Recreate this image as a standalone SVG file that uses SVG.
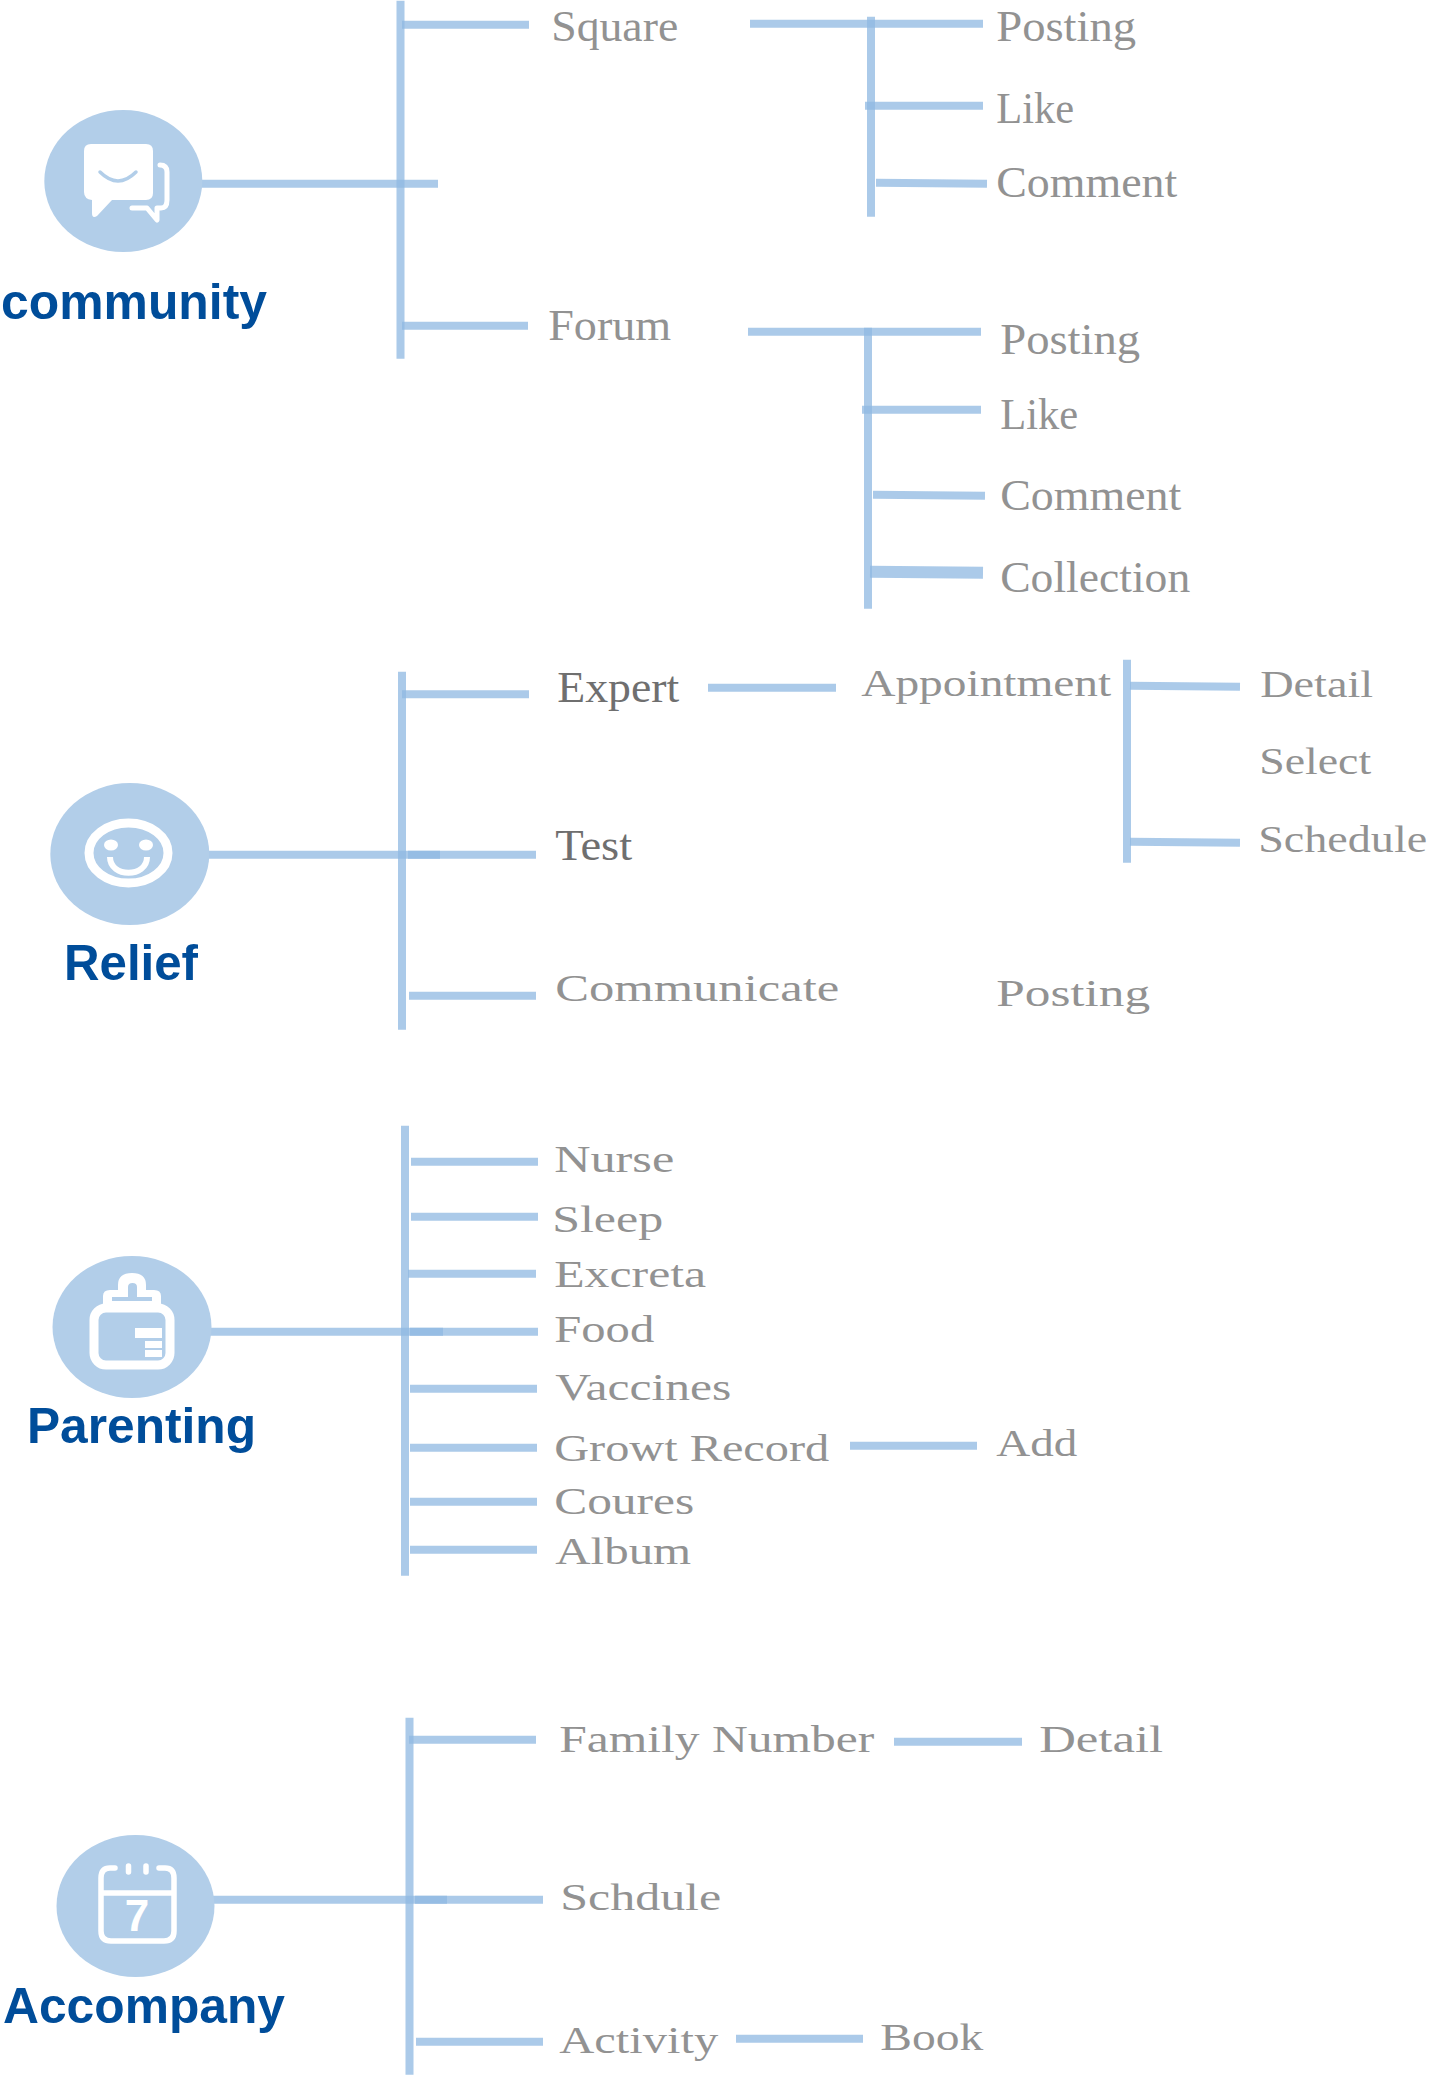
<svg xmlns="http://www.w3.org/2000/svg" width="1452" height="2076" viewBox="0 0 1452 2076">
<style>
.c{stroke:#8fb8e2;stroke-opacity:.75;stroke-width:8;fill:none}
.t{font-family:"Liberation Serif",serif;font-size:44px;fill:#929292}
.w{font-family:"Liberation Serif",serif;font-size:38px;fill:#929292}
.d{fill:#6f6f6f}
.h{font-family:"Liberation Sans",Arial,sans-serif;font-weight:700;font-size:50px;fill:#004d9a}
.b{fill:#b2cee9}
.i{fill:none;stroke:#fff;stroke-linecap:round;stroke-linejoin:round}
.f{fill:#fff}
</style>
<rect width="1452" height="2076" fill="#fff"/>
<g id="connectors" transform="translate(0 .7)">
<line class="c" x1="400.500" y1="0" x2="400.500" y2="358"/><line class="c" x1="201" y1="183" x2="438" y2="183"/><line class="c" x1="402" y1="24" x2="529" y2="24"/><line class="c" x1="402" y1="325" x2="528" y2="325"/>
<line class="c" x1="750" y1="23" x2="983" y2="23"/><line class="c" x1="871" y1="16" x2="871" y2="216"/><line class="c" x1="865" y1="105" x2="983" y2="105"/><line class="c" x1="876" y1="182" x2="987" y2="183"/>
<line class="c" x1="748" y1="331" x2="981" y2="331"/><line class="c" x1="868" y1="327" x2="868" y2="608"/><line class="c" x1="862" y1="409" x2="981" y2="409"/><line class="c" x1="873" y1="494" x2="985" y2="495"/><line class="c" x1="870" y1="571" x2="983" y2="572" style="stroke-width:12"/>
<line class="c" x1="402" y1="671" x2="402" y2="1029"/><line class="c" x1="402" y1="693.500" x2="529" y2="693.500"/><line class="c" x1="208" y1="854" x2="440" y2="854"/><line class="c" x1="408" y1="854" x2="536" y2="854"/><line class="c" x1="409" y1="995" x2="536" y2="995"/><line class="c" x1="708" y1="687" x2="836" y2="687"/>
<line class="c" x1="1127" y1="659" x2="1127" y2="862"/><line class="c" x1="1130" y1="685" x2="1240" y2="686"/><line class="c" x1="1130" y1="841" x2="1240" y2="842"/>
<line class="c" x1="405" y1="1125" x2="405" y2="1575"/><line class="c" x1="411" y1="1161" x2="538" y2="1161"/><line class="c" x1="411" y1="1216" x2="538" y2="1216"/><line class="c" x1="408" y1="1273" x2="536" y2="1273"/><line class="c" x1="210" y1="1331" x2="443" y2="1331"/><line class="c" x1="410" y1="1331" x2="538" y2="1331"/><line class="c" x1="410" y1="1388" x2="537" y2="1388"/><line class="c" x1="410" y1="1447" x2="537" y2="1447"/><line class="c" x1="410" y1="1501" x2="537" y2="1501"/><line class="c" x1="410" y1="1549" x2="537" y2="1549"/><line class="c" x1="850" y1="1445" x2="977" y2="1445"/>
<line class="c" x1="409.500" y1="1717" x2="409.500" y2="2074"/><line class="c" x1="409" y1="1739" x2="536" y2="1739"/><line class="c" x1="212" y1="1899" x2="447" y2="1899"/><line class="c" x1="415" y1="1899" x2="543" y2="1899"/><line class="c" x1="416" y1="2041" x2="543" y2="2041"/><line class="c" x1="894" y1="1741" x2="1022" y2="1741"/><line class="c" x1="736" y1="2038" x2="863" y2="2038"/>
</g>
<g id="community"><ellipse class="b" cx="123.300" cy="181" rx="79" ry="71"/>
<path class="f" d="M91 144H146Q153 144 153 151V193Q153 200 146 200H112L97 216Q92 219 92 213V200Q84 199 84 192V151Q84 144 91 144Z"/>
<path d="M100 172Q118 190 136 172" fill="none" stroke="#b2cee9" stroke-width="3.500" stroke-linecap="round"/>
<path class="i" stroke-width="5" d="M132 208H147L157 220V208H161Q167 208 167 200V172Q167 165 160 165"/>
<text class="h" x="1" y="319" textLength="266" lengthAdjust="spacingAndGlyphs">community</text></g>
<g id="relief"><ellipse class="b" cx="129.800" cy="854" rx="79.500" ry="71"/>
<ellipse cx="128.500" cy="853" rx="39.500" ry="30" fill="none" stroke="#fff" stroke-width="9"/><ellipse class="f" cx="111" cy="845" rx="7" ry="5.500"/><ellipse class="f" cx="146" cy="845" rx="7" ry="5.500"/>
<path d="M110 857C110 878 147 878 147 857" fill="none" stroke="#fff" stroke-width="6"/>
<text class="h" x="64" y="980" textLength="134" lengthAdjust="spacingAndGlyphs">Relief</text></g>
<g id="parenting"><ellipse class="b" cx="132" cy="1327" rx="79.500" ry="71"/>
<rect x="94" y="1308" width="76" height="57" rx="12" fill="none" stroke="#fff" stroke-width="9"/>
<path class="f" d="M103 1304V1296Q103 1290 110 1290H118V1285Q118 1273 132 1273Q146 1273 146 1285V1290H154Q161 1290 161 1296V1304Z"/>
<path class="b" d="M128 1297V1287Q128 1283 132.500 1283Q137 1283 137 1287V1297H152V1301H112V1297Z"/>
<rect class="f" x="135" y="1328" width="27" height="10"/><rect class="f" x="145" y="1341" width="17" height="7"/><rect class="f" x="145" y="1350" width="17" height="7"/>
<text class="h" x="27" y="1443" textLength="229" lengthAdjust="spacingAndGlyphs">Parenting</text></g>
<g id="accompany"><ellipse class="b" cx="135.500" cy="1906" rx="79" ry="71"/>
<path class="i" stroke-width="5.500" d="M115 1868H110Q101 1868 101 1878V1931Q101 1941 111 1941H164Q174 1941 174 1931V1878Q174 1868 165 1868H159M101 1893H174M128.500 1866V1872M146 1866V1872"/>
<text x="137" y="1931" text-anchor="middle" style="font-family:'Liberation Sans',Arial,sans-serif;font-size:44px;font-weight:700;fill:#fff">7</text>
<text class="h" x="3" y="2023" textLength="282" lengthAdjust="spacingAndGlyphs">Accompany</text></g>
<g id="labels" transform="translate(-.8 .8)">
<text class="t" x="552" y="40" textLength="127" lengthAdjust="spacingAndGlyphs">Square</text>
<text class="t" x="997" y="40" textLength="140" lengthAdjust="spacingAndGlyphs">Posting</text>
<text class="t" x="997" y="122" textLength="78" lengthAdjust="spacingAndGlyphs">Like</text>
<text class="t" x="997" y="196" textLength="181" lengthAdjust="spacingAndGlyphs">Comment</text>
<text class="t" x="549" y="339" textLength="123" lengthAdjust="spacingAndGlyphs">Forum</text>
<text class="t" x="1001" y="353" textLength="140" lengthAdjust="spacingAndGlyphs">Posting</text>
<text class="t" x="1001" y="428" textLength="78" lengthAdjust="spacingAndGlyphs">Like</text>
<text class="t" x="1001" y="509" textLength="181" lengthAdjust="spacingAndGlyphs">Comment</text>
<text class="t" x="1001" y="591" textLength="190" lengthAdjust="spacingAndGlyphs">Collection</text>
<text class="t d" x="558" y="701" textLength="122" lengthAdjust="spacingAndGlyphs">Expert</text>
<text class="t d" x="556" y="859" textLength="77" lengthAdjust="spacingAndGlyphs">Test</text>
<text class="w" x="862" y="695" textLength="250" lengthAdjust="spacingAndGlyphs">Appointment</text>
<text class="w" x="1261" y="696" textLength="113" lengthAdjust="spacingAndGlyphs">Detail</text>
<text class="w" x="1260" y="773" textLength="112" lengthAdjust="spacingAndGlyphs">Select</text>
<text class="w" x="1259" y="851" textLength="169" lengthAdjust="spacingAndGlyphs">Schedule</text>
<text class="w" x="556" y="1000" textLength="284" lengthAdjust="spacingAndGlyphs">Communicate</text>
<text class="w" x="997" y="1005" textLength="154" lengthAdjust="spacingAndGlyphs">Posting</text>
<text class="w" x="555" y="1171" textLength="120" lengthAdjust="spacingAndGlyphs">Nurse</text>
<text class="w" x="553" y="1231" textLength="111" lengthAdjust="spacingAndGlyphs">Sleep</text>
<text class="w" x="555" y="1286" textLength="152" lengthAdjust="spacingAndGlyphs">Excreta</text>
<text class="w" x="555" y="1341" textLength="100" lengthAdjust="spacingAndGlyphs">Food</text>
<text class="w" x="556" y="1399" textLength="176" lengthAdjust="spacingAndGlyphs">Vaccines</text>
<text class="w" x="555" y="1460" textLength="275" lengthAdjust="spacingAndGlyphs">Growt Record</text>
<text class="w" x="555" y="1513" textLength="140" lengthAdjust="spacingAndGlyphs">Coures</text>
<text class="w" x="556" y="1563" textLength="136" lengthAdjust="spacingAndGlyphs">Album</text>
<text class="w" x="997" y="1455" textLength="81" lengthAdjust="spacingAndGlyphs">Add</text>
<text class="w" x="560" y="1751" textLength="315" lengthAdjust="spacingAndGlyphs">Family Number</text>
<text class="w" x="1040" y="1751" textLength="124" lengthAdjust="spacingAndGlyphs">Detail</text>
<text class="w" x="561" y="1909" textLength="161" lengthAdjust="spacingAndGlyphs">Schdule</text>
<text class="w" x="560" y="2052" textLength="159" lengthAdjust="spacingAndGlyphs">Activity</text>
<text class="w" x="881" y="2049" textLength="103" lengthAdjust="spacingAndGlyphs">Book</text>
</g>
</svg>
